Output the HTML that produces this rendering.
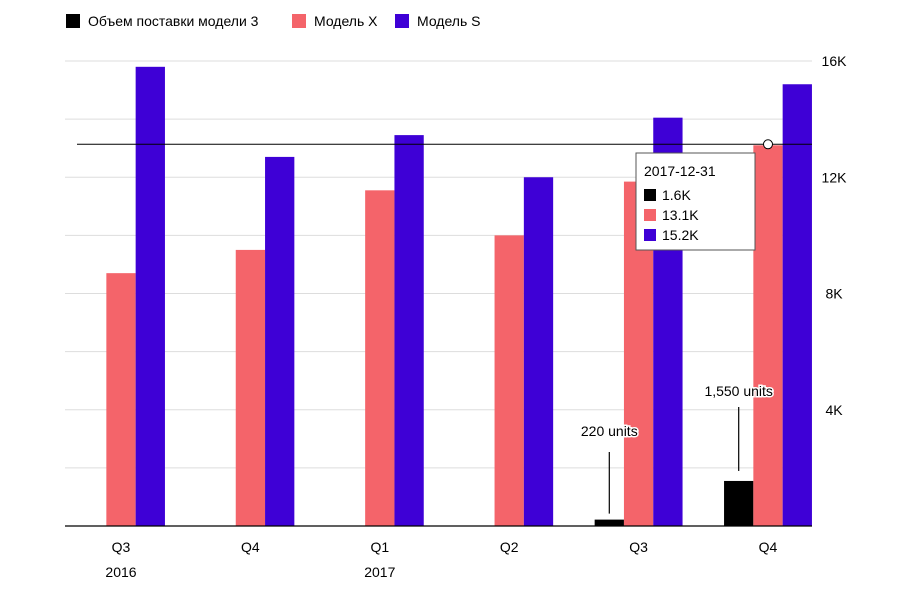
<!DOCTYPE html>
<html><head><meta charset="utf-8"><style>
body{margin:0;background:#fff;font-family:"Liberation Sans",sans-serif;}
svg text{font-family:"Liberation Sans",sans-serif;}
</style></head><body>
<svg id="chart" width="900" height="600" xmlns="http://www.w3.org/2000/svg">
<g id="legend">
<g><rect x="66" y="14" width="14" height="14" fill="#000"/><text x="88" y="26" font-size="14">Объем поставки модели 3</text></g>
<g><rect x="292" y="14" width="14" height="14" fill="#f4646a"/><text x="314" y="26" font-size="14">Модель X</text></g>
<g><rect x="395" y="14" width="14" height="14" fill="#3e00d6"/><text x="417" y="26" font-size="14">Модель S</text></g>
</g>
<g id="grid"></g><g id="bars"></g><g id="axes"></g><g id="overlay"></g>
</svg>
<script>
const categories=["Q3","Q4","Q1","Q2","Q3","Q4"];
const years=["2016","","2017","","",""];
const model3=[0,0,0,0,0.22,1.55];
const modelX=[8.7,9.5,11.55,10.0,11.85,13.1];
const modelS=[15.8,12.7,13.45,12.0,14.05,15.2];
const yTicks=[4,8,12,16];
const ns="http://www.w3.org/2000/svg";
const x0=65,x1=812,yBase=526,yTop=61,maxV=16;
function y(v){return yBase-(v/maxV)*(yBase-yTop);}
function cx(i){return 121+i*129.4;}
function mk(tag,attrs,parent,text){const e=document.createElementNS(ns,tag);for(const k in attrs)e.setAttribute(k,attrs[k]);if(text!==undefined)e.textContent=text;parent.appendChild(e);return e;}
const grid=document.getElementById('grid'),bars=document.getElementById('bars'),axes=document.getElementById('axes'),ov=document.getElementById('overlay');
for(let v=2;v<=16;v+=2){const l=mk('line',{x1:x0,x2:x1,y1:y(v),y2:y(v),stroke:'#ddd','stroke-width':1},grid);

}
yTicks.forEach(t=>{const e=mk('text',{x:834,y:y(t)+5,'font-size':14,'text-anchor':'middle'},axes,t+'K');

});
const bw=29.3;
const series=[[model3,'#000','model-3'],[modelX,'#f4646a','model-x'],[modelS,'#3e00d6','model-s']];
categories.forEach((c,i)=>{
 series.forEach((s,j)=>{const v=s[0][i];if(v<=0)return;
  const r=mk('rect',{x:cx(i)-bw*1.5+j*bw,y:y(v),width:bw,height:yBase-y(v),fill:s[1]},bars);
  
  });
 const t=mk('text',{x:cx(i),y:552,'font-size':14,'text-anchor':'middle'},axes,c);
 
 
 if(years[i]){const yt=mk('text',{x:cx(i),y:577,'font-size':14,'text-anchor':'middle'},axes,years[i]);
 
 }
});
const base=mk('line',{x1:x0,x2:x1,y1:yBase,y2:yBase,stroke:'#000','stroke-width':1.2},axes);


// annotations
function annot(i,label,ty,ly1,ly2){const xx=cx(i)-bw;
 const l=mk('line',{x1:xx,x2:xx,y1:ly1,y2:ly2,stroke:'#000','stroke-width':1.2},ov);
 
 
 const t=mk('text',{x:xx,y:ty,'font-size':14,'text-anchor':'middle',stroke:'#fff','stroke-width':3,'paint-order':'stroke'},ov,label);
 
 }
annot(4,'220 units',436,452,y(model3[4])-6);
annot(5,'1,550 units',396,407,y(model3[5])-10);
// crosshair
const hi=5,hv=modelX[hi];
const ch=mk('line',{x1:x0+12,x2:x1,y1:y(hv)-1,y2:y(hv)-1,stroke:'#000','stroke-width':1},ov);


const dot=mk('circle',{cx:cx(hi),cy:y(hv)-1,r:4.5,fill:'#fff',stroke:'#000','stroke-width':1},ov);


const tip=mk('g',{},ov);


mk('rect',{x:636,y:153,width:119,height:97,fill:'#fff',stroke:'#555','stroke-width':1},tip);
mk('text',{x:644,y:176,'font-size':14},tip,'2017-12-31');
[[model3,'#000'],[modelX,'#f4646a'],[modelS,'#3e00d6']].forEach((s,j)=>{
 mk('rect',{x:644,y:189+j*20,width:12,height:12,fill:s[1]},tip);
 mk('text',{x:662,y:200+j*20,'font-size':14},tip,s[0][hi].toFixed(1)+'K');
});
</script>
</body></html>
